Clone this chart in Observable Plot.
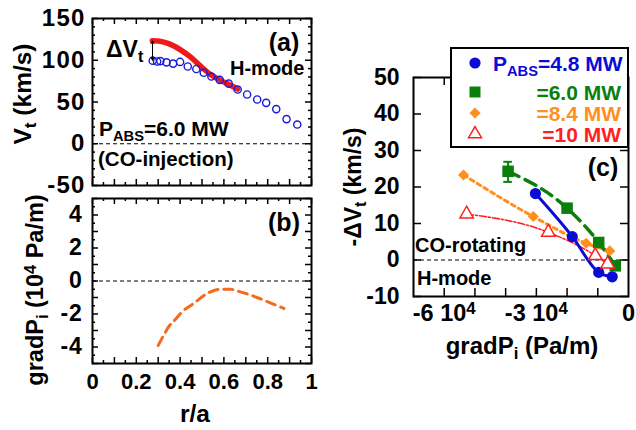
<!DOCTYPE html>
<html><head><meta charset="utf-8">
<script src="https://cdn.jsdelivr.net/npm/d3@7"></script>
<script src="https://cdn.jsdelivr.net/npm/@observablehq/plot@0.6"></script>
<style>
html,body{margin:0;padding:0;background:#fff;}
#wrap{position:relative;width:636px;height:430px;overflow:hidden;background:#fff;
  font-family:"Liberation Sans",Arial,Helvetica,sans-serif;font-weight:bold;color:#000;}
#wrap svg{position:absolute;}
.t{position:absolute;white-space:nowrap;line-height:1;font-size:20px;}
.c{transform:translate(-50%,-50%);}
.ly{transform:translateY(-50%);}
.rot{transform:translate(-50%,-50%) rotate(-90deg);}
.sb{position:relative;top:0.32em;font-size:0.7em;}
.sp{position:relative;top:-0.45em;font-size:0.7em;}
#legend{position:absolute;left:450px;top:47px;width:179px;height:101px;border:2px solid #000;
  box-sizing:border-box;background:#fff;}
</style></head>
<body><div id="wrap"></div>
<script>
// ---------- data ----------
// panel (a): measured toroidal rotation (open circles) and fitted profile (red)
const rMeasured = [0.275,0.295,0.31,0.338,0.368,0.40,0.435,0.474,0.508,0.543,0.581,0.622,0.663,0.706,0.752,0.793,0.839,0.886,0.935];
const vtMeasured = [99.5,98.5,99,97.5,96,98,92.5,89.5,85,80.5,76.5,72,65,59,53,49,41.5,29.5,23];
const rFit = [0.273,0.30,0.341,0.372,0.402,0.447,0.493,0.539,0.584,0.630,0.663];
const vtFit = [123.5,123,120.5,117,112.5,104,93,83,76,70,65.5];
const deltaR = 0.274, deltaTop = 123, deltaBottom = 100;
// panel (b): ion pressure gradient (10^4 Pa/m)
const rGrad = [0.30,0.326,0.348,0.38,0.41,0.463,0.524,0.584,0.63,0.66,0.721,0.798,0.874];
const gradPi = [-3.9,-3.27,-2.77,-2.3,-1.86,-1.35,-0.75,-0.5,-0.5,-0.6,-0.85,-1.25,-1.66];
// panel (c): -ΔVt vs gradPi for four absorbed powers
const powerLabels = ["=4.8 MW","=6.0 MW","=8.4 MW","=10 MW"];
const grad48 = [-30300,-18300,-9700,-5300], dv48 = [18.2,6.4,-3.4,-4.6];
const grad60 = [-39200,-20000,-9700,-4300], dv60 = [24.3,14.2,4.8,-1.6];
const grad84 = [-53700,-31000,-13800,-6100], dv84 = [23.3,11.9,4.6,2.5];
const grad10 = [-52700,-26100,-10800,-6800], dv10 = [12.6,7.6,1.2,-1.1];
const err60 = {g: -39200, lo: 21.4, hi: 26.9};
// tick values
const ticksA = [-50,0,50,100,150];
const ticksB = [-4,-2,0,2,4];
const ticksR = [0,0.2,0.4,0.6,0.8,1];
const ticksCy = [-10,0,10,20,30,40,50];
const ticksCx = [-60000,-30000,0];

// ---------- helpers ----------
const FONT = '"Liberation Sans", Arial, Helvetica, sans-serif';
const wrap = document.getElementById("wrap");
const toPts = (xs, ys) => xs.map((x, i) => ({x, y: ys[i]}));
const range = (a, b, s) => d3.range(Math.round((b - a) / s) + 1).map(i => +(a + i * s).toFixed(6));
function inTicks(vals, axis, len, w, h, sw = 1.5) {
  if (axis === "x") return [
    Plot.tickX(vals, {x: d => d, insetTop: h - len, stroke: "#000", strokeWidth: sw}),
    Plot.tickX(vals, {x: d => d, insetBottom: h - len, stroke: "#000", strokeWidth: sw})
  ];
  return [
    Plot.tickY(vals, {y: d => d, insetRight: w - len, stroke: "#000", strokeWidth: sw}),
    Plot.tickY(vals, {y: d => d, insetLeft: w - len, stroke: "#000", strokeWidth: sw})
  ];
}
function place(svg, left, top) {
  svg.style.left = left + "px"; svg.style.top = top + "px";
  wrap.appendChild(svg);
}
function styleLabels(svg, axis, size, spacing) {
  svg.querySelectorAll(`g[aria-label="${axis}-axis tick label"]`).forEach(g => {
    g.setAttribute("font-size", size + "px");
    g.style.fontSize = size + "px";
    if (spacing) g.setAttribute("letter-spacing", spacing + "px");
  });
}
const baseStyle = {fontFamily: FONT, fontSize: "22px", fontWeight: "bold", color: "#000", background: "transparent", overflow: "visible"};

// ---------- panel (a) ----------
{
  const w = 320, h = 200, ml = 92, mr = 9, mt = 18, mb = 15;
  const iw = w - ml - mr, ih = h - mt - mb;
  const svg = Plot.plot({
    width: w, height: h, marginLeft: ml, marginRight: mr, marginTop: mt, marginBottom: mb,
    style: baseStyle,
    x: {domain: [0, 1], axis: null},
    y: {domain: [-50, 150]},
    marks: [
      Plot.ruleY([0], {stroke: "#000", strokeWidth: 1, strokeDasharray: "4,3"}),
      Plot.line(toPts(rFit, vtFit), {x: "x", y: "y", stroke: "#ee1a1a", strokeWidth: 5.5, curve: "monotone-x"}),
      Plot.dot(toPts(rMeasured, vtMeasured), {x: "x", y: "y", r: 3.6, stroke: "#1a1ad8", strokeWidth: 1.4, fill: "none"}),
      Plot.arrow([{y1: (deltaTop + deltaBottom) / 2, y2: deltaTop}, {y1: (deltaTop + deltaBottom) / 2, y2: deltaBottom}],
        {x1: () => deltaR, x2: () => deltaR, y1: "y1", y2: "y2", stroke: "#000", strokeWidth: 1, headLength: 5}),
      ...inTicks(range(0, 1, 0.1), "x", 6, iw, ih),
      ...inTicks(range(0.05, 0.95, 0.1), "x", 3, iw, ih),
      ...inTicks(range(-50, 150, 50), "y", 6, iw, ih),
      ...inTicks(range(-40, 140, 10).filter(d => d % 50 !== 0), "y", 3, iw, ih),
      Plot.axisY(ticksA, {tickSize: 0, tickPadding: 7, label: null, tickFormat: d => String(d)}),
      Plot.frame({stroke: "#000", strokeWidth: 2})
    ]
  });
  styleLabels(svg, "y", 24, 1.2);
  place(svg, 0, 0);
}

// ---------- panel (b) ----------
{
  const w = 320, h = 240, ml = 92, mr = 9, mt = 8, mb = 67;
  const iw = w - ml - mr, ih = h - mt - mb;
  const svg = Plot.plot({
    width: w, height: h, marginLeft: ml, marginRight: mr, marginTop: mt, marginBottom: mb,
    style: baseStyle,
    x: {domain: [0, 1]},
    y: {domain: [-5, 5]},
    marks: [
      Plot.ruleY([0], {stroke: "#000", strokeWidth: 1, strokeDasharray: "4,3"}),
      Plot.line(toPts(rGrad, gradPi), {x: "x", y: "y", stroke: "#f26a1b", strokeWidth: 3, strokeDasharray: "9,6", curve: "monotone-x"}),
      ...inTicks(range(0, 1, 0.1), "x", 6, iw, ih),
      ...inTicks(range(0.05, 0.95, 0.1), "x", 3, iw, ih),
      ...inTicks(range(-5, 5, 1), "y", 6, iw, ih),
      ...inTicks(range(-4.5, 4.5, 1), "y", 3, iw, ih),
      Plot.axisY(ticksB, {tickSize: 0, tickPadding: 10, label: null, tickFormat: d => String(d)}),
      Plot.axisX(ticksR, {tickSize: 0, tickPadding: 10, label: null, tickFormat: d => String(d)}),
      Plot.frame({stroke: "#000", strokeWidth: 2})
    ]
  });
  styleLabels(svg, "y", 23, 0.8);
  place(svg, 0, 190);
}

// ---------- panel (c) ----------
const colC = ["#0b0bd6", "#0a800a", "#ff8f1f", "#ff1f1f"];
{
  const w = 306, h = 390, ml = 83, mr = 8, mt = 37, mb = 134;
  const iw = w - ml - mr, ih = h - mt - mb;
  const s48 = toPts(grad48, dv48), s60 = toPts(grad60, dv60), s84 = toPts(grad84, dv84), s10 = toPts(grad10, dv10);
  const capHalf = 1400;
  const svg = Plot.plot({
    width: w, height: h, marginLeft: ml, marginRight: mr, marginTop: mt, marginBottom: mb,
    style: baseStyle,
    x: {domain: [-70000, 0]},
    y: {domain: [-10, 50]},
    marks: [
      Plot.ruleY([0], {stroke: "#000", strokeWidth: 1, strokeDasharray: "4,3"}),
      Plot.line(s10, {x: "x", y: "y", stroke: colC[3], strokeWidth: 1.6, strokeDasharray: "7,2,2,2", curve: "monotone-x"}),
      Plot.line(s84, {x: "x", y: "y", stroke: colC[2], strokeWidth: 3, strokeDasharray: "4,4", curve: "monotone-x"}),
      Plot.line(s60, {x: "x", y: "y", stroke: colC[1], strokeWidth: 3.5, strokeDasharray: "12,7", curve: "monotone-x"}),
      Plot.line(s48, {x: "x", y: "y", stroke: colC[0], strokeWidth: 3, curve: "monotone-x"}),
      Plot.ruleX([err60], {x: "g", y1: "lo", y2: "hi", stroke: colC[1], strokeWidth: 2}),
      Plot.ruleY([err60.lo, err60.hi], {y: d => d, x1: err60.g - capHalf, x2: err60.g + capHalf, stroke: colC[1], strokeWidth: 2}),
      Plot.dot(s60, {x: "x", y: "y", symbol: "square", r: 6.5, fill: colC[1]}),
      Plot.dot(s84, {x: "x", y: "y", symbol: "diamond2", r: 5, fill: colC[2]}),
      Plot.dot(s48, {x: "x", y: "y", symbol: "circle", r: 5.6, fill: colC[0]}),
      Plot.dot(s10, {x: "x", y: "y", symbol: "triangle", r: 5, fill: "#fff", stroke: colC[3], strokeWidth: 1.5}),
      ...inTicks(range(-60000, -10000, 10000), "x", 8, iw, ih, 1.5),
      ...inTicks(range(-10, 50, 10), "y", 8, iw, ih, 1.5),
      Plot.axisY(ticksCy, {tickSize: 0, tickPadding: 14, label: null, tickFormat: d => String(d)}),
      Plot.axisX(ticksCx, {tickSize: 0, tickPadding: 8, label: null, tickFormat: d => d === 0 ? "0" : `${d / 1e4} 10^4`}),
      Plot.frame({stroke: "#000", strokeWidth: 2})
    ]
  });
  svg.querySelectorAll('g[aria-label="x-axis tick label"] text').forEach(t => {
    const s = t.textContent;
    if (s.includes("^")) {
      const [a] = s.split("^");
      t.textContent = a;
      const ts = document.createElementNS("http://www.w3.org/2000/svg", "tspan");
      ts.setAttribute("dy", "-0.42em"); ts.setAttribute("font-size", "0.72em");
      ts.textContent = "4";
      t.appendChild(ts);
    }
  });
  styleLabels(svg, "x", 23.5, 0);
  styleLabels(svg, "y", 23, 0);
  place(svg, 330, 40);
}

// ---------- text annotations ----------
function txt(html, x, y, cls, size, color) {
  const d = document.createElement("div");
  d.className = "t " + (cls || "");
  d.innerHTML = html;
  d.style.left = x + "px"; d.style.top = y + "px";
  if (size) d.style.fontSize = size + "px";
  if (color) d.style.color = color;
  wrap.appendChild(d);
  return d;
}
txt('V<span class="sb">t</span> (km/s)', 23, 94, "rot", 24.5);
txt('gradP<span class="sb">i</span> (10<span class="sp">4</span> Pa/m)', 36, 290, "rot", 23.5);
txt('r/a', 195, 414, "c", 24.5);
txt('(a)', 284, 42, "c", 25);
txt('(b)', 284, 222, "c", 25);
txt('H-mode', 230, 68, "ly", 20);
txt('ΔV<span class="sb">t</span>', 106, 49, "ly", 23);
txt('P<span class="sb">ABS</span>=6.0 MW', 99, 128, "ly", 21);
txt('(CO-injection)', 98, 159, "ly", 20.5);
txt('-ΔV<span class="sb">t</span> (km/s)', 353, 187, "rot", 23);
txt('gradP<span class="sb">i</span> (Pa/m)', 522, 346, "c", 24);
txt('(c)', 603, 167, "c", 25);
txt('CO-rotating', 415, 245, "ly", 20);
txt('H-mode', 417, 278, "ly", 20);

// ---------- legend ----------
{
  const lg = document.createElement("div");
  lg.id = "legend";
  wrap.appendChild(lg);
  const symbols = [d3.symbolCircle, d3.symbolSquare, d3.symbolDiamond2, d3.symbolTriangle];
  const sizes = [5.6, 6.2, 5, 4.8];
  const rowsY = [16, 45, 66, 87];
  powerLabels.forEach((lab, i) => {
    const s = document.createElementNS("http://www.w3.org/2000/svg", "svg");
    s.setAttribute("width", 20); s.setAttribute("height", 20);
    s.style.left = (25 - 2 - 10) + "px"; s.style.top = (rowsY[i] - 2 - 10) + "px";
    const p = document.createElementNS("http://www.w3.org/2000/svg", "path");
    p.setAttribute("d", d3.symbol(symbols[i], Math.PI * sizes[i] * sizes[i])());
    p.setAttribute("transform", "translate(10,10)");
    if (i === 3) { p.setAttribute("fill", "#fff"); p.setAttribute("stroke", colC[3]); p.setAttribute("stroke-width", 1.5); }
    else p.setAttribute("fill", colC[i]);
    s.appendChild(p);
    lg.appendChild(s);
    const d = document.createElement("div");
    d.className = "t ly";
    d.style.fontSize = "21px";
    d.style.color = colC[i];
    d.style.top = (rowsY[i] - 2) + "px";
    if (i === 0) { d.style.left = (43 - 2) + "px"; d.innerHTML = 'P<span class="sb">ABS</span>' + lab; }
    else { d.style.right = (8 - 2) + "px"; d.textContent = lab; }
    lg.appendChild(d);
  });
}
</script>
</body></html>
